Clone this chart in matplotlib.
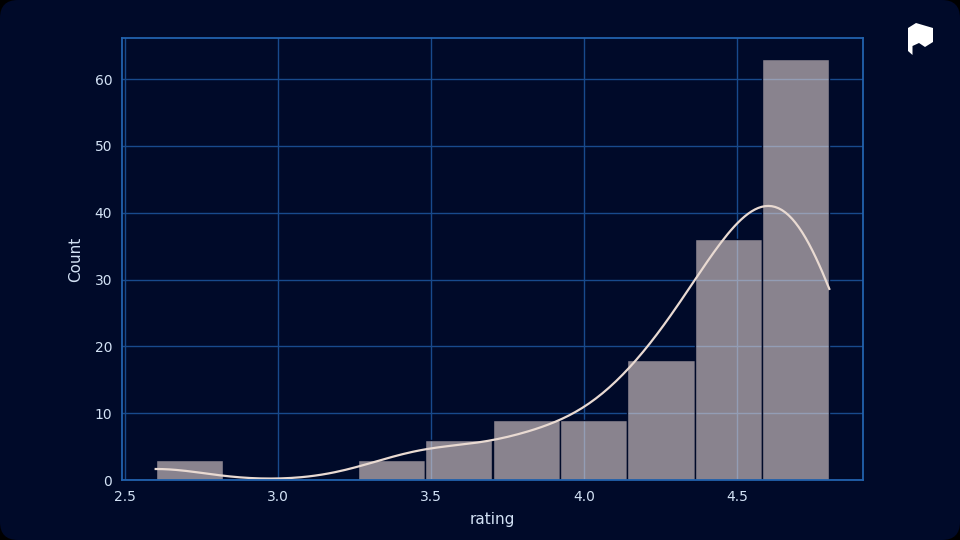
import matplotlib
matplotlib.use("Agg")
import matplotlib.pyplot as plt
import seaborn as sns
import numpy as np
from matplotlib.patches import FancyBboxPatch, Polygon
from matplotlib.transforms import IdentityTransform

# distinct ratings and how often each occurs
rating_values = [2.6, 3.3, 3.4, 3.5, 3.6, 3.8, 3.9, 4.0, 4.1, 4.2, 4.3, 4.4, 4.5, 4.6, 4.7, 4.8]
rating_counts = [3, 1, 2, 3, 3, 5, 4, 2, 7, 9, 9, 16, 20, 19, 27, 17]
x_ticks = [2.5, 3.0, 3.5, 4.0, 4.5]

BG = "#000a29"
GRID = "#184a8c"
SPINE = "#2262ad"
TXT = "#d3e2f5"
BAR = "#e6d5d2"

ratings = np.repeat(rating_values, rating_counts)


def main():
    fig = plt.figure(figsize=(9.6, 5.4), dpi=100)
    fig.patch.set_facecolor("black")
    card = FancyBboxPatch((0, 0), 960, 540, boxstyle="round,pad=0,rounding_size=18",
                          transform=IdentityTransform(), facecolor=BG, edgecolor="none",
                          zorder=-5)
    fig.patches.append(card)

    ax = fig.add_axes([122 / 960, 60 / 540, 741 / 960, 442 / 540])
    ax.set_facecolor(BG)
    ax.grid(True, color=GRID, linewidth=1)
    ax.set_axisbelow(True)

    sns.histplot(x=ratings, bins=10, kde=True, ax=ax, color=BAR, alpha=0.6,
                 edgecolor=BG, linewidth=1, line_kws={"linewidth": 1.6})
    ax.lines[-1].set_color("#e9dad2")

    ax.set_xticks(x_ticks)
    ax.set_xlabel("rating", color=TXT, fontsize=11, labelpad=6)
    ax.set_ylabel("Count", color=TXT, fontsize=11, labelpad=8)
    ax.tick_params(colors=TXT, labelsize=10, length=0, pad=7)
    for s in ax.spines.values():
        s.set_color(SPINE)
        s.set_linewidth(1.3)

    # logo, pixel coords (y down)
    white = [(908, 28), (916, 23), (933, 28), (933, 42), (925, 47), (919, 43),
             (912.5, 46), (912.5, 55), (908, 51)]
    for pts, c in [(white, "white")]:
        fig.patches.append(Polygon([(x, 540 - y) for x, y in pts], closed=True,
                                   transform=IdentityTransform(), facecolor=c, edgecolor="none",
                                   zorder=5))

    fig.savefig("out.png", dpi=100, facecolor=fig.get_facecolor())


if __name__ == "__main__":
    main()
